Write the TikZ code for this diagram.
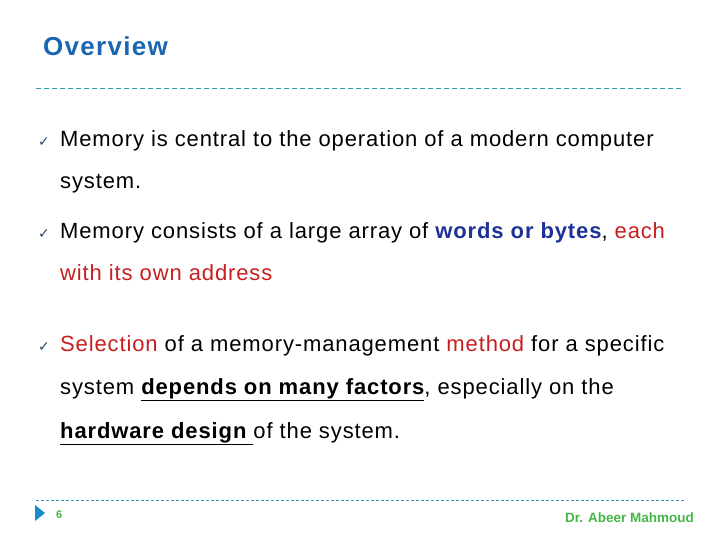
\documentclass[tikz,border=0pt]{standalone}
\usepackage{fontspec}
\setmainfont{Liberation Sans}
\newfontfamily\dv{DejaVu Sans}
\newfontfamily\bodyf[LetterSpace=4]{Liberation Sans}
\newfontfamily\ttlf[LetterSpace=5]{Liberation Sans}
\definecolor{ttl}{RGB}{26,102,178}
\definecolor{dashc}{RGB}{50,150,170}
\definecolor{wb}{RGB}{30,50,150}
\definecolor{rd}{RGB}{200,30,30}
\definecolor{gr}{RGB}{70,180,70}
\definecolor{ck}{RGB}{40,70,110}
\definecolor{tri}{RGB}{20,140,200}
\begin{document}
\begin{tikzpicture}[x=1pt,y=-1pt,
  body/.style={anchor=base west,inner sep=0pt,font=\bodyf\fontsize{22}{26}\selectfont},
  chk/.style={anchor=base west,inner sep=0pt,text=ck,font=\dv\fontsize{14}{16}\selectfont},
  rule/.style={draw=dashc,dash pattern=on 5pt off 3pt,line width=0.8pt}]
\useasboundingbox (0,0) rectangle (720,540);
\node[anchor=base west,inner sep=0pt,text=ttl,font=\ttlf\bfseries\fontsize{26}{30}\selectfont] (t) at (43,56) {Overview};
\coordinate (l1a) at (36,88); \coordinate (l1b) at (684,88);
\draw[rule] (l1a) -- (l1b);
\node[chk] (c1) at (38,147) {✓};
\node[body] (a1) at (60,147) {Memory is central to the operation of a modern computer};
\node[body] (a2) at (60,189) {system.};
\node[chk] (c2) at (38,238) {✓};
\node[body] (b1) at (60,238) {Memory consists of a large array of \textcolor{wb}{\bfseries words or bytes}, \textcolor{rd}{each}};
\node[body,text=rd] (b2) at (60,280) {with its own address};
\node[chk] (c3) at (38,351) {✓};
\node[body] (d1) at (60,351) {\textcolor{rd}{Selection} of a memory-management \textcolor{rd}{method} for a specific};
\node[body] (d2) at (60,394) {system \underline{\bfseries depends on many factors}, especially on the};
\node[body] (d3) at (60,438) {\underline{\bfseries hardware design }of the system.};
\coordinate (l2a) at (36,500); \coordinate (l2b) at (684,500);
\draw[draw=dashc,dash pattern=on 3pt off 2pt,line width=0.6pt] (l2a) -- (l2b);
\fill[tri] (35,505) -- (45,513) -- (35,521) -- cycle;
\node[anchor=base west,inner sep=0pt,text=gr,font=\bfseries\fontsize{11}{13}\selectfont] (pg) at (56,518) {6};
\node[anchor=base east,inner sep=0pt,text=gr,font=\bfseries\fontsize{13.5}{15}\selectfont] (au) at (694,522) {Dr. Abeer Mahmoud};
\end{tikzpicture}
\end{document}
